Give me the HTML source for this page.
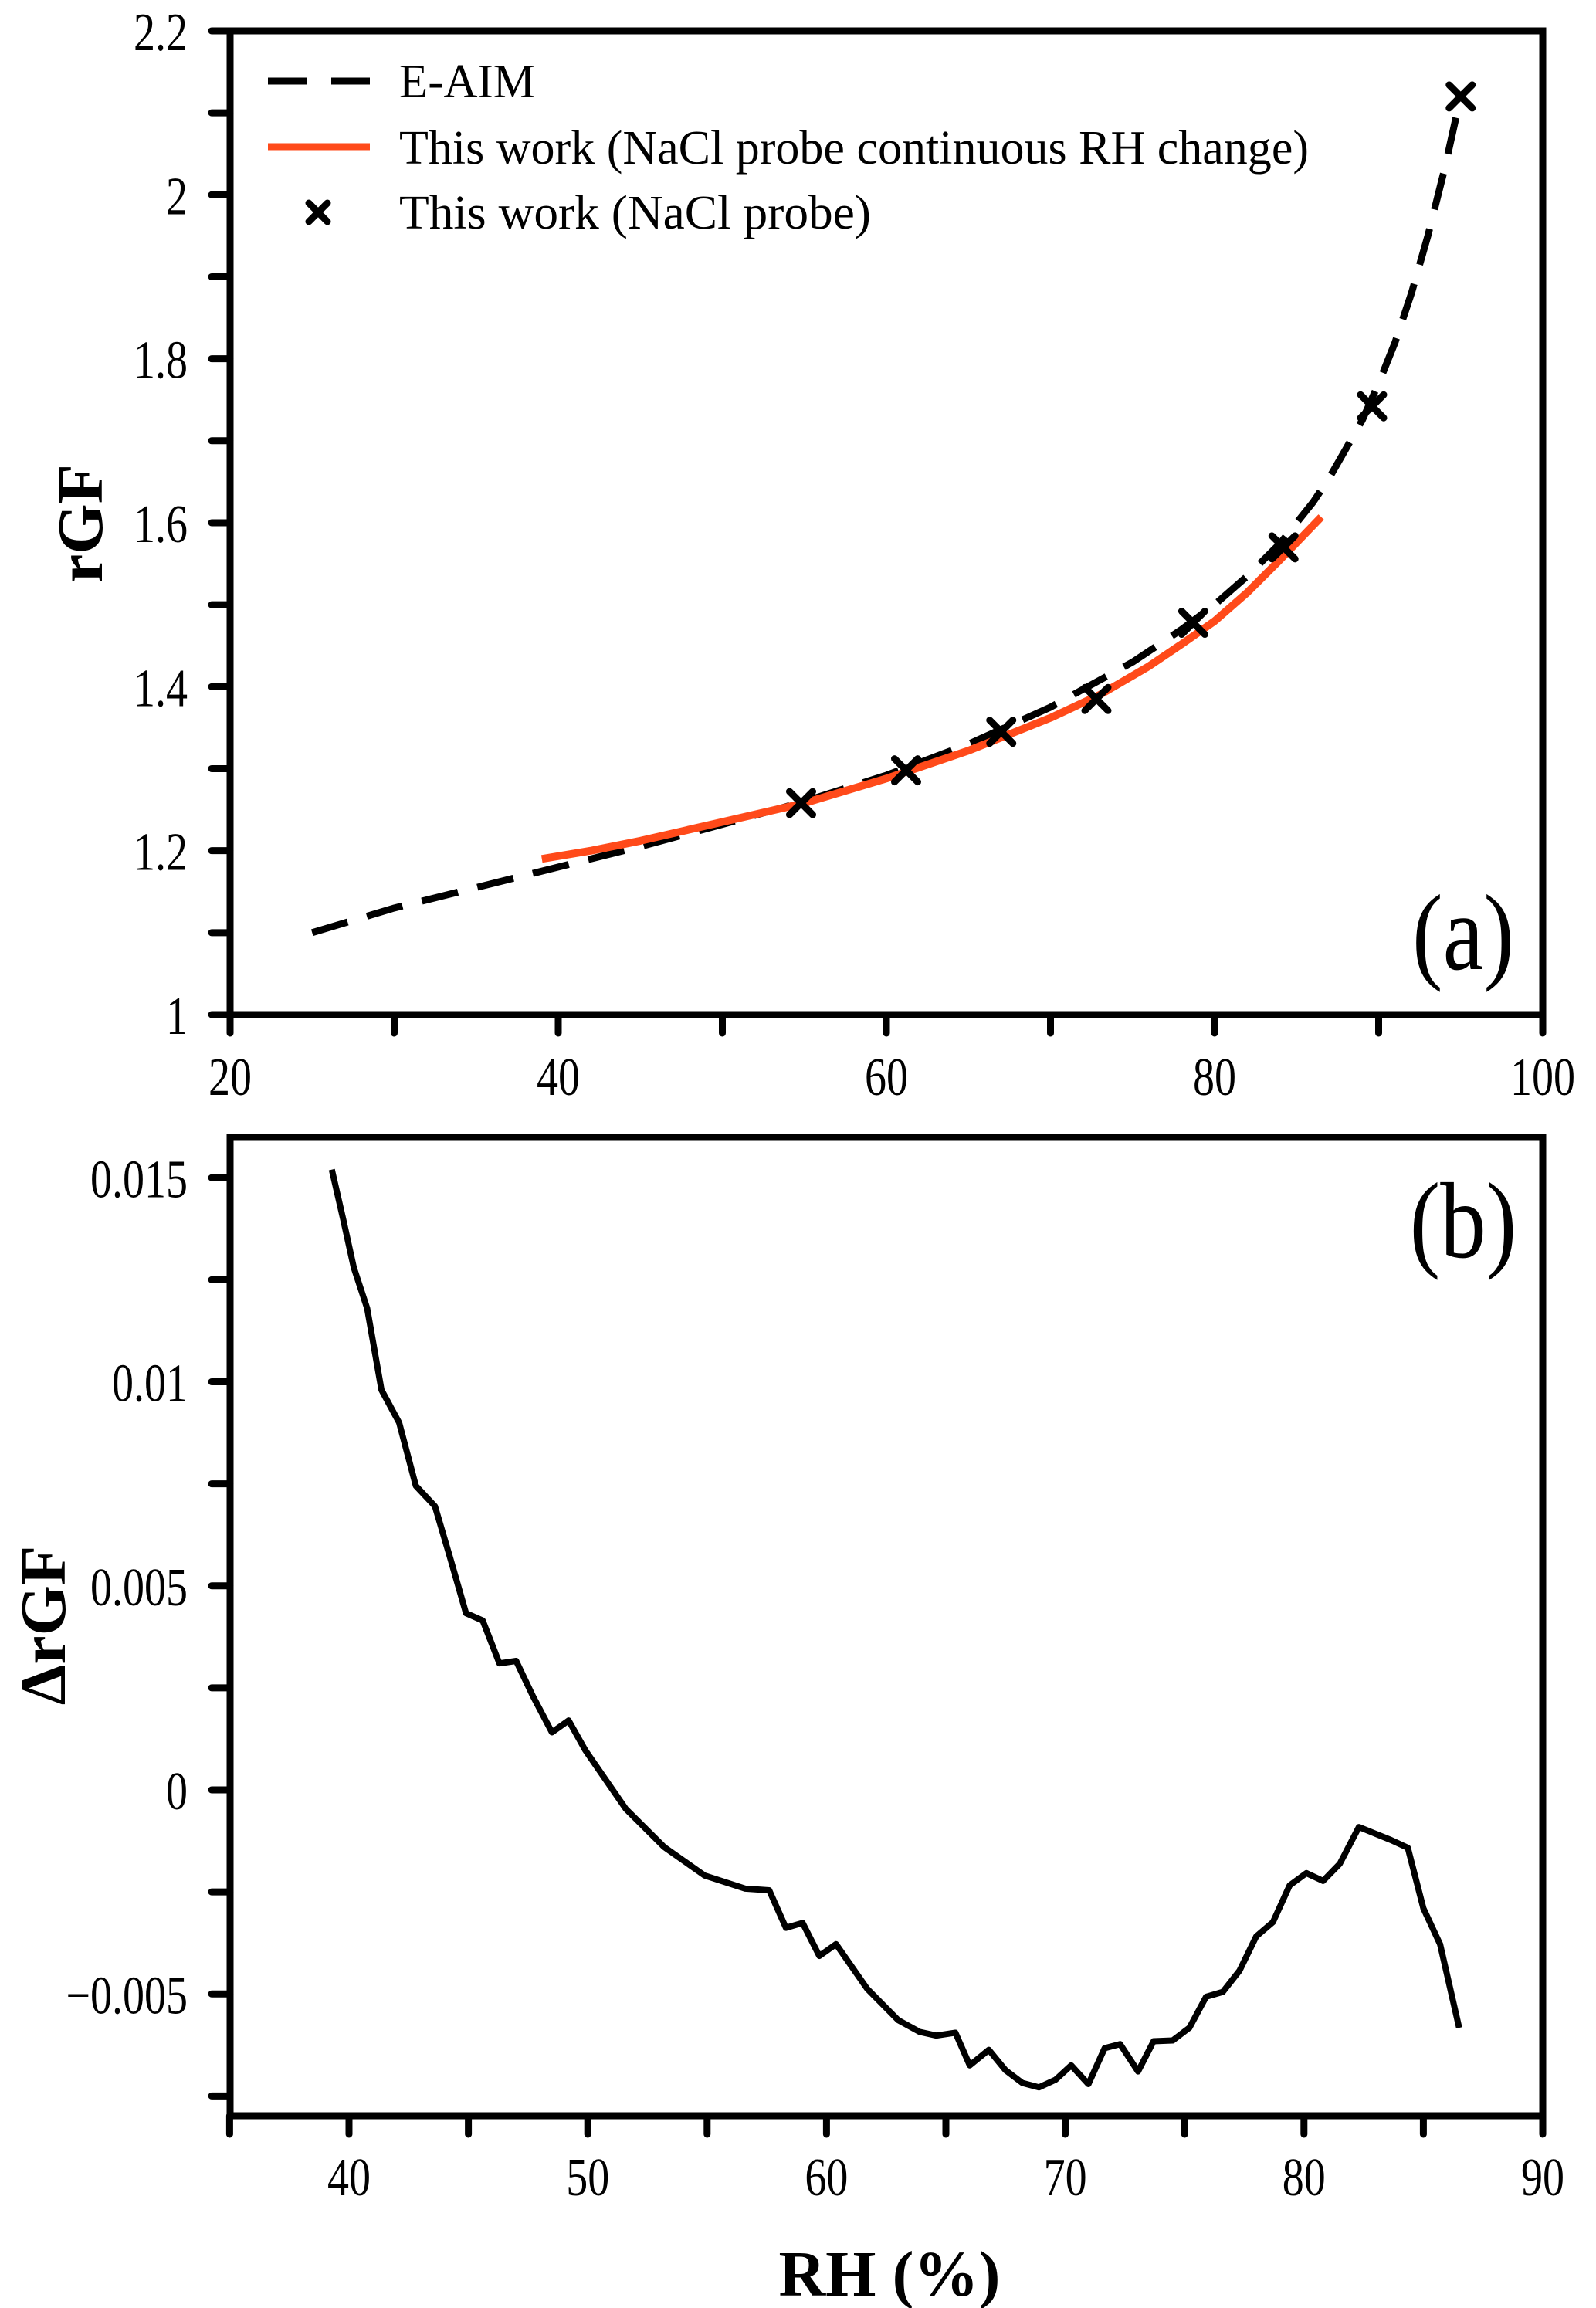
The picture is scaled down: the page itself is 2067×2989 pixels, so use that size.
<!DOCTYPE html>
<html><head><meta charset="utf-8"><style>
html,body{margin:0;padding:0;background:#fff;}
svg{display:block;}
text{font-family:"Liberation Serif","DejaVu Serif",serif;}
</style></head><body>
<svg id="chart" width="2067" height="2989" xmlns="http://www.w3.org/2000/svg"></svg>
<script>
// ---- Panel (a) data ----
const eaimX = [25,30,35,40,45,50,55,60,65,70,75,78,80,82,84,86,87,88,89,90,91,92,93,94,95];
const eaimY = [1.10,1.13,1.155,1.18,1.205,1.232,1.26,1.292,1.33,1.375,1.43,1.47,1.50,1.535,1.575,1.625,1.655,1.69,1.725,1.77,1.82,1.88,1.95,2.03,2.12];
const contX = [39,42,45,50,55,60,65,70,73,76,78,80,82,84,86.5];
const contY = [1.19,1.20,1.212,1.235,1.258,1.288,1.322,1.362,1.39,1.425,1.452,1.48,1.515,1.555,1.607];
const probeX = [54.8,61.2,67,72.8,78.7,84.2,89.6,95];
const probeY = [1.258,1.298,1.345,1.385,1.478,1.57,1.742,2.12];
const aXTicks = ["20","40","60","80","100"];
const aYTicks = ["1","1.2","1.4","1.6","1.8","2","2.2"];
// ---- Panel (b) data ----
const dX = [39.28,39.75,40.2,40.76,41.36,42.1,42.8,43.6,44.2,44.9,45.6,46.3,47.0,47.7,48.5,49.2,49.9,51.6,53.2,54.9,56.6,57.6,58.3,59.0,59.7,60.4,61.7,63.0,63.9,64.6,65.4,66.0,66.8,67.5,68.2,68.9,69.6,70.25,70.97,71.65,72.3,73.05,73.7,74.5,75.2,75.9,76.6,77.3,78.0,78.7,79.4,80.1,80.8,81.5,82.3,83.65,84.35,85.0,85.7,86.5];
const dY = [0.0152,0.0140,0.0128,0.0118,0.0098,0.0090,0.00745,0.00695,0.00576,0.00433,0.00415,0.0031,0.00316,0.0023,0.00141,0.0017,0.00097,-0.00047,-0.0014,-0.0021,-0.00242,-0.00246,-0.00338,-0.00326,-0.00407,-0.00378,-0.00487,-0.00564,-0.00593,-0.00602,-0.00595,-0.00675,-0.00637,-0.00687,-0.00718,-0.00729,-0.0071,-0.00675,-0.00721,-0.00633,-0.00623,-0.0069,-0.00616,-0.00614,-0.00583,-0.00507,-0.00495,-0.00443,-0.00359,-0.00324,-0.00234,-0.00204,-0.00223,-0.00181,-0.00091,-0.00123,-0.00142,-0.0029,-0.00378,-0.00583];
const bXTicks = ["40","50","60","70","80","90"];
const bYTicks = ["0.015","0.01","0.005","0","\u22120.005"];

const NS="http://www.w3.org/2000/svg";
const svg=document.getElementById('chart');
function mk(tag,attrs,parent){const e=document.createElementNS(NS,tag);for(const k in attrs)e.setAttribute(k,attrs[k]);(parent||svg).appendChild(e);return e;}
const FF='Liberation Serif, DejaVu Serif, serif';

const ax=v=>298+(v-20)*21.25;
const ay=v=>1314-(v-1)*1061.7;
const bx=v=>452+(v-40)*30.92;
const by=v=>2318-v*52850;

function label(x,y,txt,anchor,size,weight,name,sx){
  const g=mk('g',{transform:`translate(${x},${y}) scale(${sx||0.8},1)`});
  const t=mk('text',{x:0,y:0,'font-size':size,'font-family':FF,'text-anchor':anchor,'font-weight':weight||'normal',fill:'#000'},g);
  t.textContent=txt;
  
  
  return t;
}
function line(x1,y1,x2,y2,name){
  const l=mk('line',{x1,y1,x2,y2,stroke:'#000','stroke-width':9,'stroke-linecap':'round'});
  
  
}

// ---------- Panel (a) ----------
for(let v=20;v<=100;v+=10){const X=ax(v);line(X,1314,X,1338,'x-tick-a');}
aXTicks.forEach(s=>label(ax(+s),1418,s,'middle',70,null,'x-tick-label-a'));
for(let i=0;i<=12;i++){const v=1+i*0.1;line(274,ay(v),298,ay(v),'y-tick-a');}
aYTicks.forEach(s=>label(243,ay(+s)+25,s,'end',70,null,'y-tick-label-a'));
let p=eaimX.map((x,i)=>(i?'L':'M')+ax(x)+','+ay(eaimY[i])).join(' ');
let e=mk('path',{d:p,fill:'none',stroke:'#000','stroke-width':9,'stroke-dasharray':'48 26','stroke-linejoin':'round'});


p=contX.map((x,i)=>(i?'L':'M')+ax(x)+','+ay(contY[i])).join(' ');
e=mk('path',{d:p,fill:'none',stroke:'#ff4a1a','stroke-width':10,'stroke-linejoin':'round'});


probeX.forEach((x,i)=>{
  const X=ax(x),Y=ay(probeY[i]);
  const g=mk('path',{d:`M${X-15},${Y-15}L${X+15},${Y+15}M${X-15},${Y+15}L${X+15},${Y-15}`,stroke:'#000','stroke-width':9,'stroke-linecap':'round',fill:'none'});
  
  
});
e=mk('rect',{x:298,y:40,width:1700,height:1274,fill:'none',stroke:'#000','stroke-width':9});


e=mk('line',{x1:347,y1:105,x2:479,y2:105,stroke:'#000','stroke-width':9,'stroke-dasharray':'50 32'});


e=mk('line',{x1:347,y1:190,x2:479,y2:190,stroke:'#ff4a1a','stroke-width':9});


e=mk('path',{d:'M400,263L424,287M400,287L424,263',stroke:'#000','stroke-width':9,'stroke-linecap':'round'});


[['E-AIM',126,176,'legend-eaim'],['This work (NaCl probe continuous RH change)',212,1178,'legend-continuous'],['This work (NaCl  probe)',296,611,'legend-probe']].forEach(r=>{
  const t=mk('text',{x:517,y:r[1],'font-size':62,'font-family':FF,fill:'#000','xml:space':'preserve'});
  t.setAttribute('textLength',r[2]);t.setAttribute('lengthAdjust','spacingAndGlyphs');
  t.textContent=r[0];
  
  
});
label(1895,1255,'(a)','middle',140,null,'panel-label-a',0.85);
e=mk('text',{x:0,y:0,'font-size':84,'font-family':FF,'font-weight':'bold','text-anchor':'middle',transform:'translate(132,678) rotate(-90)'});
e.textContent='rGF';



// ---------- Panel (b) ----------
for(let v=35;v<=90;v+=5){const X=bx(v);line(X,2740,X,2764,'x-tick-b');}
bXTicks.forEach(s=>label(bx(+s),2843,s,'middle',70,null,'x-tick-label-b'));
for(let i=0;i<=9;i++){const v=0.015-i*0.0025;line(274,by(v),298,by(v),'y-tick-b');}
bYTicks.forEach(s=>label(243,by(+s.replace('\u2212','-'))+25,s,'end',70,null,'y-tick-label-b'));
p=dX.map((x,i)=>(i?'L':'M')+bx(x)+','+by(dY[i])).join(' ');
e=mk('path',{d:p,fill:'none',stroke:'#000','stroke-width':8,'stroke-linejoin':'round'});


e=mk('rect',{x:298,y:1473,width:1700,height:1267,fill:'none',stroke:'#000','stroke-width':9});


label(1895,1628,'(b)','middle',140,null,'panel-label-b',0.85);
e=mk('text',{x:0,y:0,'font-size':84,'font-family':FF,'font-weight':'bold','text-anchor':'middle',transform:'translate(84,2105) rotate(-90)'});
e.textContent='\u0394rGF';


e=mk('text',{x:1152,y:2973,'font-size':84,'font-family':FF,'font-weight':'bold','text-anchor':'middle'});
e.textContent='RH (%)';


</script>
</body></html>
